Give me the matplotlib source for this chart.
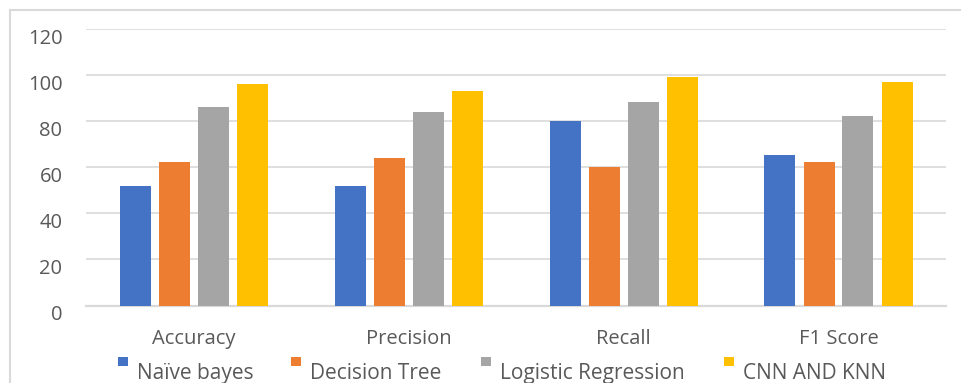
import numpy as np
import matplotlib.pyplot as plt
from matplotlib.patches import Rectangle
from matplotlib.lines import Line2D

categories = ["Accuracy", "Precision", "Recall", "F1 Score"]
models = ["Naïve bayes", "Decision Tree", "Logistic Regression", "CNN AND KNN"]
naive_bayes = [52, 52, 80, 65.3]
decision_tree = [62.3, 64, 60, 62.3]
logistic_regression = [86.2, 84, 88.4, 82.3]
cnn_knn = [96.2, 93, 99.3, 97]
y_ticks = [0, 20, 40, 60, 80, 100, 120]

colors = ["#4472C4", "#ED7D31", "#A5A5A5", "#FFC000"]
text_color = "#595959"
grid_color = "#D9D9D9"

plt.rcParams["font.family"] = ["Open Sans", "DejaVu Sans"]

W, H = 962, 383
fig = plt.figure(figsize=(W / 100, H / 100), dpi=100)
ax = fig.add_axes([86 / W, (H - 305.5) / H, (946 - 86) / W, (305.5 - 29) / H])

series = [naive_bayes, decision_tree, logistic_regression, cnn_knn]
x = np.arange(len(categories))
bar_w = 31 / 215
step = 39 / 215
for i, (vals, c) in enumerate(zip(series, colors)):
    ax.bar(x + (i - 1.5) * step, vals, width=bar_w, color=c, zorder=3)

ax.set_xlim(-0.5, len(categories) - 0.5)
ax.set_ylim(0, 120)
ax.set_yticks(y_ticks)
ax.set_xticks(x)
ax.set_xticklabels(categories)
ax.grid(axis="y", color=grid_color, lw=1.2, zorder=0)
for s in ["top", "right", "left"]:
    ax.spines[s].set_visible(False)
ax.spines["bottom"].set_color(grid_color)
ax.spines["bottom"].set_linewidth(1.6)
ax.tick_params(axis="both", length=0, labelsize=14.5, colors=text_color)
ax.tick_params(axis="x", pad=17)
ax.tick_params(axis="y", pad=17)
for lab in ax.get_yticklabels():
    lab.set_verticalalignment("top")

# legend drawn in figure pixels
marker_x = [118, 291, 481, 724]
for mx, name, c in zip(marker_x, models, colors):
    fig.add_artist(Rectangle((mx / W, (H - 366) / H), 10 / W, 9 / H,
                             transform=fig.transFigure, color=c, lw=0))
    fig.text((mx + 19) / W, (H - 379) / H, name, fontsize=15,
             color=text_color, va="baseline", ha="left")

# outer chart frame (partly cropped)
fig.add_artist(Line2D([10 / W, 10 / W], [0, (H - 10) / H],
                      transform=fig.transFigure, color=grid_color, lw=1.5))
fig.add_artist(Line2D([10 / W, 1], [(H - 10) / H, (H - 10) / H],
                      transform=fig.transFigure, color=grid_color, lw=1.5))

fig.savefig("out.png", dpi=100)
